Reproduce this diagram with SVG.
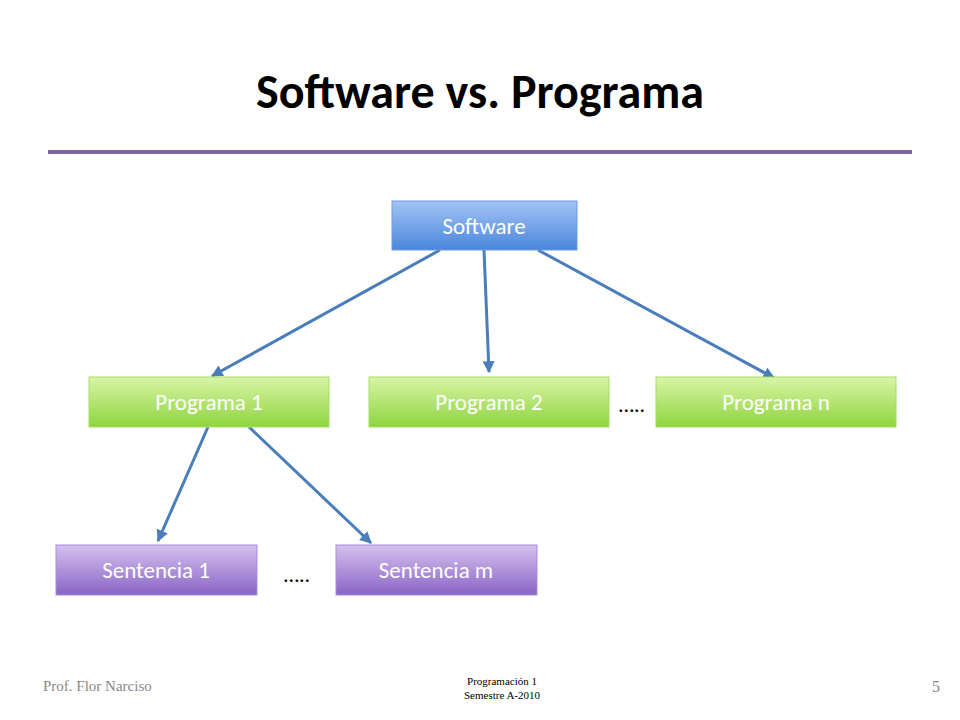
<svg xmlns="http://www.w3.org/2000/svg" width="960" height="720" viewBox="0 0 960 720">
<defs>
<linearGradient id="gb" x1="0" y1="0" x2="0" y2="1"><stop offset="0" stop-color="#a3c4f5"/><stop offset="1" stop-color="#4a86dc"/></linearGradient>
<linearGradient id="gg" x1="0" y1="0" x2="0" y2="1"><stop offset="0" stop-color="#d8f5a8"/><stop offset="1" stop-color="#8fd43c"/></linearGradient>
<linearGradient id="gp" x1="0" y1="0" x2="0" y2="1"><stop offset="0" stop-color="#d4c2ef"/><stop offset="1" stop-color="#8a64c4"/></linearGradient>
<marker id="ar" viewBox="0 0 10 10" refX="9" refY="5" markerWidth="4" markerHeight="4" orient="auto"><path d="M0,0L10,5L0,10z" fill="#4a7ebb"/></marker>
<style>
.nt{font-family:Calibri,Carlito,"Open Sans",sans-serif;font-size:23px;fill:#fff;text-anchor:middle}
.c line{stroke:#4a7ebb;stroke-width:3;marker-end:url(#ar)}
.ft{font-family:"Liberation Serif",serif;fill:#888}
</style>
</defs>
<rect width="960" height="720" fill="#fff"/>
<text x="480" y="108" text-anchor="middle" font-family="Carlito,Calibri,'Open Sans',sans-serif" font-weight="bold" font-size="48" fill="#000">Software vs. Programa</text>
<line x1="48" y1="152" x2="912" y2="152" stroke="#8064a2" stroke-width="4"/>
<g class="c">
<line x1="440" y1="250" x2="212" y2="376"/>
<line x1="484" y1="250" x2="489" y2="372"/>
<line x1="538" y1="250" x2="774" y2="378"/>
<line x1="208" y1="427" x2="158" y2="541"/>
<line x1="249" y1="427" x2="371" y2="543"/>
</g>
<g id="software"><rect x="392" y="201" width="185" height="49" fill="url(#gb)" stroke="#6f9be0"/><text class="nt" x="484" y="234">Software</text></g>
<g id="p1"><rect x="89" y="377" width="240" height="50" fill="url(#gg)" stroke="#a8dd66"/><text class="nt" x="209" y="410">Programa 1</text></g>
<g id="p2"><rect x="369" y="377" width="240" height="50" fill="url(#gg)" stroke="#a8dd66"/><text class="nt" x="489" y="410">Programa 2</text></g>
<g id="pn"><rect x="656" y="377" width="240" height="50" fill="url(#gg)" stroke="#a8dd66"/><text class="nt" x="776" y="410">Programa n</text></g>
<g id="s1"><rect x="56" y="545" width="201" height="50" fill="url(#gp)" stroke="#a88ed6"/><text class="nt" x="156" y="578">Sentencia 1</text></g>
<g id="sm"><rect x="336" y="545" width="201" height="50" fill="url(#gp)" stroke="#a88ed6"/><text class="nt" x="436" y="578">Sentencia m</text></g>
<text x="632" y="412" text-anchor="middle" font-family="Carlito,Calibri,sans-serif" font-size="22">…..</text>
<text x="297" y="582" text-anchor="middle" font-family="Carlito,Calibri,sans-serif" font-size="22">…..</text>
<text class="ft" x="43" y="691" font-size="15">Prof. Flor Narciso</text>
<text x="502" y="685" text-anchor="middle" font-family="'Liberation Serif',serif" font-size="11">Programación 1</text>
<text x="502" y="699" text-anchor="middle" font-family="'Liberation Serif',serif" font-size="11">Semestre A-2010</text>
<text class="ft" x="940" y="692" font-size="16" text-anchor="end">5</text>
</svg>
